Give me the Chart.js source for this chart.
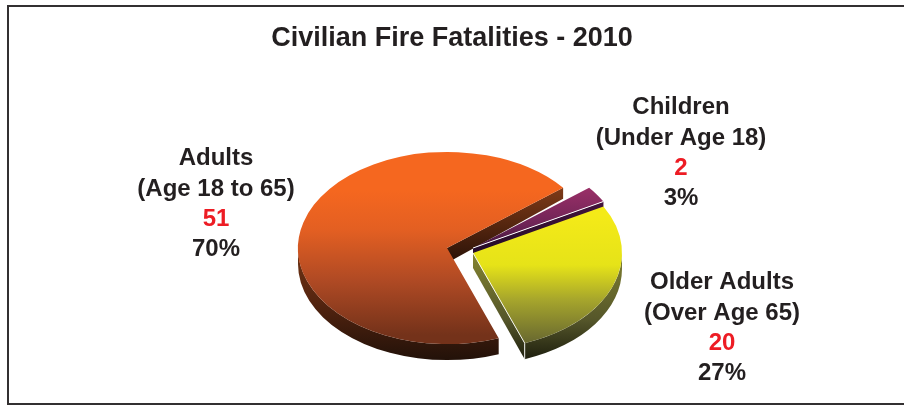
<!DOCTYPE html>
<html>
<head>
<meta charset="utf-8">
<style>html,body{margin:0;padding:0;background:#fff}canvas{display:block}</style>
<script src="https://cdn.jsdelivr.net/npm/chart.js@4"></script>
</head>
<body>
<canvas id="c" width="904" height="405"></canvas>
<script>
const chartTitle = "Civilian Fire Fatalities - 2010";
const categories = ["Adults", "Children", "Older Adults"];
const subLabels = ["(Age 18 to 65)", "(Under Age 18)", "(Over Age 65)"];
const counts = [51, 2, 20];
const percents = ["70%", "3%", "27%"];

const FONT = '"Liberation Sans", Arial, sans-serif';
const INK = "#231f20", RED = "#ed1c24";
const TILT = 0.645, SCREEN_CX = 447, SCREEN_CY = 248, DEPTH = 16;
const shifts = [[0,0],[26,0],[26,5]];
const topStops = [
  [[190,"#f5671f"],[230,"#e35f22"],[280,"#b04a24"],[335,"#74321a"]],
  [[186,"#9c3068"],[225,"#6e2456"],[250,"#3a1238"]],
  [[215,"#f4ea18"],[265,"#e6e318"],[300,"#a6a52c"],[345,"#656530"]]
];
const wallStops = [
  [[225,"#7a3a15"],[300,"#562510"],[358,"#241209"]],
  [[200,"#45133c"],[262,"#1f0a25"]],
  [[250,"#828230"],[320,"#55562a"],[358,"#20210f"]]
];
const cutStops = [
  [[188,"#7e3a18"],[225,"#55260f"],[262,"#2a1208"]],
  [[200,"#45133c"],[262,"#1f0a25"]],
  [[255,"#828230"],[320,"#55562a"],[358,"#20210f"]]
];
const labelPos = [[216,158],[681,107],[722,282]];
const lineGap = [0,31,61,91];

function screenGrad(ctx, stops, toY){
  const a = stops[0][0], b = stops[stops.length-1][0];
  const g = ctx.createLinearGradient(0,toY(a),0,toY(b));
  stops.forEach(s => g.addColorStop((s[0]-a)/(b-a), s[1]));
  return g;
}
function depthAt(y){ return DEPTH - (343 - y) * 0.032; }

const pie3d = {
  id:"pie3d",
  beforeDraw(chart){
    const c = chart.ctx;
    c.save();
    c.fillStyle = "#fff"; c.fillRect(0,0,904,405);
    c.strokeStyle = "#333031"; c.lineWidth = 2;
    c.beginPath(); c.moveTo(904,6); c.lineTo(8,6); c.lineTo(8,404); c.lineTo(904,404); c.stroke();
    c.restore();
  },
  beforeDatasetDraw(chart, args){
    const c = chart.ctx;
    const arcs = chart.getDatasetMeta(args.index).data;
    arcs.forEach((arc,i) => {
      const {x,y,startAngle,endAngle,outerRadius:R} = arc.getProps(["x","y","startAngle","endAngle","outerRadius"]);
      const cx = SCREEN_CX + shifts[i][0], cy = SCREEN_CY + shifts[i][1];
      const end = endAngle;
      const ex = cx + R*Math.cos(end), ey = cy + TILT*R*Math.sin(end);
      // radial cut face
      c.save();
      c.fillStyle = screenGrad(c, cutStops[i], v => v);
      c.beginPath();
      c.moveTo(cx,cy); c.lineTo(ex,ey); c.lineTo(ex,ey+depthAt(ey)); c.lineTo(cx,cy+depthAt(cy)+2); c.closePath(); c.fill();
      // rim: visible part is the front half of the ellipse
      c.fillStyle = screenGrad(c, wallStops[i], v => v);
      const norm = a => { const t = 2*Math.PI; return ((a%t)+t)%t; };
      const s = norm(startAngle); const e = s + (endAngle-startAngle);
      [[0,Math.PI],[2*Math.PI,3*Math.PI]].forEach(([lo,hi]) => {
        const a0 = Math.max(s,lo), a1 = Math.min(e,hi);
        if(a1 > a0){
          c.beginPath();
          c.ellipse(cx,cy,R,TILT*R,0,a0,a1);
          c.ellipse(cx,cy+DEPTH,R,TILT*R,0,a1,a0,true);
          c.closePath(); c.fill();
        }
      });
      c.restore();
      // top face, drawn by the library's arc element under the tilt
      c.save();
      c.translate(cx,cy); c.scale(1,TILT); c.translate(-x,-y);
      arc.draw(c);
      c.restore();
      // thin white highlights
      if(i>0){
        c.save();
        c.strokeStyle = "#fff"; c.lineWidth = i===1 ? 1 : 0.9;
        c.beginPath(); c.moveTo(cx,cy); c.lineTo(ex,ey);
        if(i===2) c.lineTo(ex,ey+DEPTH);
        c.stroke();
        c.restore();
      }
    });
    return false;
  },
  afterDraw(chart){
    const c = chart.ctx;
    c.save();
    c.textAlign = "center"; c.textBaseline = "middle";
    c.font = "bold 24px " + FONT;
    categories.forEach((name,i) => {
      const [x,y] = labelPos[i];
      const rows = [name, subLabels[i], String(counts[i]), percents[i]];
      rows.forEach((t,r) => {
        c.fillStyle = r===2 ? RED : INK;
        c.fillText(t, x, y+lineGap[r]);
      });
    });
    c.restore();
  }
};

new Chart(document.getElementById("c"), {
  type:"pie",
  data:{ labels:categories, datasets:[{
    data:counts,
    borderWidth:0,
    backgroundColor(ctx){
      const area = ctx.chart.chartArea;
      if(!area || ctx.dataIndex===undefined) return "#888";
      const mid = (area.top+area.bottom)/2;
      const i = ctx.dataIndex;
      const base = SCREEN_CY + shifts[i][1];
      return screenGrad(ctx.chart.ctx, topStops[i], v => mid + (v-base)/TILT);
    }
  }]},
  options:{
    responsive:false,
    animation:false,
    rotation:159.7,
    radius:149,
    layout:{padding:{top:0,left:0,right:0,bottom:40}},
    events:[],
    plugins:{
      legend:{display:false},
      tooltip:{enabled:false},
      title:{display:true,text:chartTitle,color:INK,font:{family:FONT,size:27,weight:"bold"},padding:{top:22,bottom:4}}
    }
  },
  plugins:[pie3d]
});
</script>
</body>
</html>
